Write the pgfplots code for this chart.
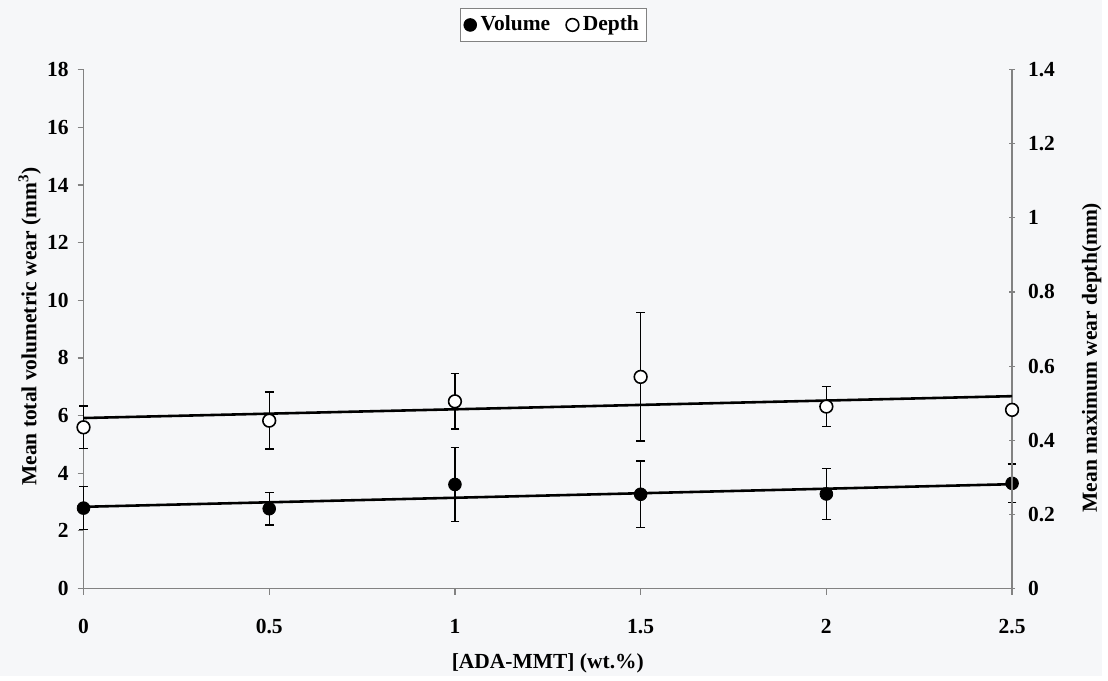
\documentclass[border=0pt]{standalone}
\usepackage{fontspec}
\setmainfont{Liberation Serif}
\usepackage{pgfplots}
\pgfplotsset{compat=1.18}
\definecolor{bg}{RGB}{246,247,249}
\definecolor{axgray}{RGB}{130,130,130}
\newcommand{\lf}{\fontsize{10.8}{13}\selectfont\bfseries}
\pgfplotsset{
  common/.style={
    scale only axis, width=467pt, height=261pt,
    xmin=0, xmax=2.5, clip=false,
    axis line style={axgray, line width=0.6pt, -},
    tick style={axgray, line width=0.6pt},
    major tick length=3pt,
    /pgf/number format/assume math mode=true,
    ticklabel style={font=\lf},
  },
}
\begin{document}
\begin{tikzpicture}
\fill[bg] (-42pt,-44pt) rectangle (512pt,296pt);
\begin{axis}[common,
  ymin=0, ymax=18,
  xtick={0,0.5,1,1.5,2,2.5},
  ytick={0,2,4,6,8,10,12,14,16,18},
  axis x line*=bottom, axis y line*=left,
  tick align=outside,
  xticklabel style={yshift=-9pt},
  yticklabel style={xshift=-1pt},
  xlabel={[ADA-MMT] (wt.\%)},
  ylabel={Mean total volumetric wear (mm\textsuperscript{3})},
  every axis x label/.style={at={(axis description cs:0.5,-0.145)},anchor=center,font=\lf},
  every axis y label/.style={at={(axis description cs:-0.058,0.505)},anchor=center,rotate=90,font=\lf},
]
\addplot[black, line width=1.3pt, forget plot] coordinates {(0,2.835) (2.5,3.62)};
\addplot[black, only marks, mark=*, mark size=3.2pt,
  error bars/.cd, y dir=both, y explicit,
  error bar style={line width=0.7pt, black},
  error mark options={rotate=90, mark size=2.2pt, line width=0.7pt, black}]
  table[x=x, y=y, y error=e] {
x y e
0 2.79 0.75
0.5 2.77 0.57
1 3.61 1.28
1.5 3.27 1.16
2 3.28 0.89
2.5 3.65 0.67
};
\end{axis}
\begin{axis}[common,
  ymin=0, ymax=1.4,
  ytick={0,0.2,0.4,0.6,0.8,1,1.2,1.4},
  axis x line=none, axis y line*=right,
  tick align=center,
  yticklabel style={xshift=3pt},
  ylabel={Mean maximum wear depth(mm)},
  every axis y label/.style={at={(axis description cs:1.0857,0.445)},anchor=center,rotate=90,font=\lf},
  legend style={at={(axis description cs:0.506,1.086)}, anchor=center,
    draw=axgray, fill=white, font=\lf, legend columns=2,
    inner sep=2pt, /tikz/every even column/.append style={column sep=6pt}},
  legend cell align=left,
]
\addlegendimage{black, only marks, mark=*, mark size=3.2pt}
\addlegendentry{Volume}
\addplot[black, line width=1.3pt, forget plot] coordinates {(0,0.460) (2.5,0.519)};
\addplot[black, only marks, mark=*, mark size=3.2pt, mark options={fill=white, line width=0.8pt},
  error bars/.cd, y dir=both, y explicit,
  error bar style={line width=0.7pt, black},
  error mark options={rotate=90, mark size=2.2pt, line width=0.7pt, black}]
  table[x=x, y=y, y error=e] {
x y e
0 0.435 0.057
0.5 0.453 0.077
1 0.505 0.075
1.5 0.571 0.173
2 0.491 0.054
2.5 0.482 0.008
};
\addlegendentry{Depth}
\end{axis}
\end{tikzpicture}
\end{document}
